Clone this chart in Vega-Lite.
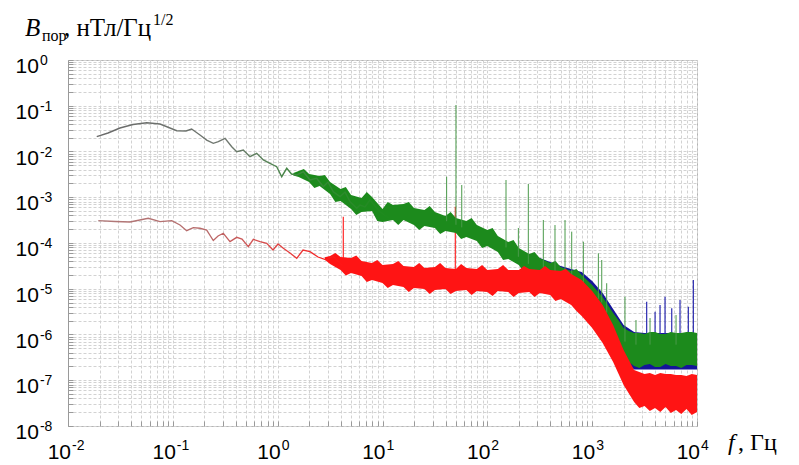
{
  "$schema": "https://vega.github.io/schema/vega-lite/v6.json",
  "width": 629,
  "height": 366,
  "autosize": {"type": "none"},
  "padding": {"left": 68, "top": 60, "right": 102, "bottom": 39},
  "background": "white",
  "config": {"view": {"stroke": "#b4b4b4", "strokeWidth": 1}, "font": "Liberation Sans"},
  "datasets": {
    "ch1_band": [
      {"f": 316.2, "hi": 4.70e-5, "lo": 1.997e-5},
      {"f": 501.2, "hi": 3.14e-5, "lo": 1.336e-5},
      {"f": 631.0, "hi": 2.70e-5, "lo": 1.092e-5},
      {"f": 794.3, "hi": 2.323e-5, "lo": 8.93e-6},
      {"f": 1000, "hi": 1.477e-5, "lo": 5.68e-6},
      {"f": 1259, "hi": 8.07e-6, "lo": 3.10e-6},
      {"f": 1585, "hi": 3.61e-6, "lo": 1.254e-6},
      {"f": 1995, "hi": 1.614e-6, "lo": 2.771e-7},
      {"f": 2512, "hi": 1.134e-6, "lo": 1.718e-7},
      {"f": 3162, "hi": 1.078e-6, "lo": 1.718e-7},
      {"f": 5012, "hi": 1.078e-6, "lo": 1.718e-7},
      {"f": 10000, "hi": 1.078e-6, "lo": 1.718e-7}
    ],
    "ch1_spikes": [
      {"f": 3311, "lo": 6e-7, "hi": 5.21e-6},
      {"f": 3981, "lo": 6e-7, "hi": 3.15e-6},
      {"f": 4440, "lo": 6e-7, "hi": 4.41e-6},
      {"f": 4955, "lo": 6e-7, "hi": 6.70e-6},
      {"f": 5741, "lo": 6e-7, "hi": 3.74e-6},
      {"f": 6887, "lo": 6e-7, "hi": 5.68e-6},
      {"f": 8266, "lo": 6e-7, "hi": 4.05e-6},
      {"f": 9228, "lo": 6e-7, "hi": 1.55e-5}
    ],
    "ch2_band": [
      {"f": 1.413, "hi": 3.4e-3, "lo": 3.0e-3},
      {"f": 1.585, "hi": 3.748e-3, "lo": 2.771e-3},
      {"f": 1.778, "hi": 4.145e-3, "lo": 2.443e-3},
      {"f": 1.995, "hi": 3.222e-3, "lo": 2.154e-3},
      {"f": 2.239, "hi": 3.064e-3, "lo": 1.593e-3},
      {"f": 2.512, "hi": 2.914e-3, "lo": 1.762e-3},
      {"f": 2.818, "hi": 3.064e-3, "lo": 1.440e-3},
      {"f": 3.162, "hi": 2.154e-3, "lo": 1.178e-3},
      {"f": 3.548, "hi": 1.806e-3, "lo": 7.873e-4},
      {"f": 3.981, "hi": 1.514e-3, "lo": 8.28e-4},
      {"f": 4.467, "hi": 1.675e-3, "lo": 6.77e-4},
      {"f": 5.012, "hi": 1.120e-3, "lo": 5.54e-4},
      {"f": 5.623, "hi": 1.038e-3, "lo": 4.093e-4},
      {"f": 6.310, "hi": 9.63e-4, "lo": 4.76e-4},
      {"f": 7.079, "hi": 1.303e-3, "lo": 4.881e-4},
      {"f": 7.943, "hi": 1.013e-3, "lo": 5.01e-4},
      {"f": 8.913, "hi": 7.486e-4, "lo": 3.03e-4},
      {"f": 10, "hi": 5.54e-4, "lo": 2.877e-4},
      {"f": 11.22, "hi": 7.873e-4, "lo": 3.03e-4},
      {"f": 12.59, "hi": 6.77e-4, "lo": 3.18e-4},
      {"f": 14.13, "hi": 6.942e-4, "lo": 2.474e-4},
      {"f": 15.85, "hi": 7.12e-4, "lo": 3.18e-4},
      {"f": 17.78, "hi": 7.873e-4, "lo": 2.806e-4},
      {"f": 19.95, "hi": 5.82e-4, "lo": 2.474e-4},
      {"f": 22.39, "hi": 5.54e-4, "lo": 1.923e-4},
      {"f": 25.12, "hi": 5.26e-4, "lo": 2.353e-4},
      {"f": 28.18, "hi": 6.437e-4, "lo": 2.237e-4},
      {"f": 31.62, "hi": 4.76e-4, "lo": 2.128e-4},
      {"f": 35.48, "hi": 4.304e-4, "lo": 1.573e-4},
      {"f": 39.81, "hi": 3.89e-4, "lo": 1.829e-4},
      {"f": 44.67, "hi": 4.76e-4, "lo": 1.740e-4},
      {"f": 50.12, "hi": 3.52e-4, "lo": 1.654e-4},
      {"f": 56.23, "hi": 3.263e-4, "lo": 1.223e-4},
      {"f": 63.10, "hi": 3.03e-4, "lo": 1.352e-4},
      {"f": 70.79, "hi": 3.52e-4, "lo": 1.223e-4},
      {"f": 79.43, "hi": 2.474e-4, "lo": 1.106e-4},
      {"f": 89.13, "hi": 2.182e-4, "lo": 7.78e-5},
      {"f": 100, "hi": 1.923e-4, "lo": 8.60e-5},
      {"f": 112.2, "hi": 2.128e-4, "lo": 7.394e-5},
      {"f": 125.9, "hi": 1.422e-4, "lo": 6.36e-5},
      {"f": 141.3, "hi": 1.223e-4, "lo": 4.25e-5},
      {"f": 158.5, "hi": 1.051e-4, "lo": 4.47e-5},
      {"f": 177.8, "hi": 1.163e-4, "lo": 3.843e-5},
      {"f": 199.5, "hi": 7.78e-5, "lo": 3.30e-5},
      {"f": 223.9, "hi": 6.686e-5, "lo": 2.323e-5},
      {"f": 251.2, "hi": 5.75e-5, "lo": 2.443e-5},
      {"f": 281.8, "hi": 6.36e-5, "lo": 2.21e-5},
      {"f": 316.2, "hi": 4.70e-5, "lo": 1.997e-5},
      {"f": 354.8, "hi": 4.145e-5, "lo": 1.477e-5},
      {"f": 398.1, "hi": 3.65e-5, "lo": 1.634e-5},
      {"f": 446.7, "hi": 4.04e-5, "lo": 1.477e-5},
      {"f": 501.2, "hi": 2.99e-5, "lo": 1.336e-5},
      {"f": 562.3, "hi": 2.70e-5, "lo": 9.87e-6},
      {"f": 631.0, "hi": 2.443e-5, "lo": 1.092e-5},
      {"f": 707.9, "hi": 2.70e-5, "lo": 9.87e-6},
      {"f": 794.3, "hi": 1.997e-5, "lo": 8.93e-6},
      {"f": 891.3, "hi": 1.553e-5, "lo": 7.119e-6},
      {"f": 1000, "hi": 1.207e-5, "lo": 5.68e-6},
      {"f": 1122, "hi": 8.93e-6, "lo": 4.197e-6},
      {"f": 1259, "hi": 6.60e-6, "lo": 3.10e-6},
      {"f": 1413, "hi": 4.41e-6, "lo": 2.075e-6},
      {"f": 1585, "hi": 2.95e-6, "lo": 1.387e-6},
      {"f": 1778, "hi": 2.075e-6, "lo": 7.58e-7},
      {"f": 1995, "hi": 1.387e-6, "lo": 2.771e-7},
      {"f": 2239, "hi": 1.193e-6, "lo": 2.505e-7},
      {"f": 2512, "hi": 1.078e-6, "lo": 2.049e-7},
      {"f": 2818, "hi": 1.078e-6, "lo": 1.852e-7},
      {"f": 3162, "hi": 1.026e-6, "lo": 2.154e-7},
      {"f": 3548, "hi": 1.134e-6, "lo": 2.265e-7},
      {"f": 3981, "hi": 1.134e-6, "lo": 1.948e-7},
      {"f": 4467, "hi": 1.026e-6, "lo": 1.948e-7},
      {"f": 5012, "hi": 1.026e-6, "lo": 2.265e-7},
      {"f": 5623, "hi": 1.134e-6, "lo": 2.049e-7},
      {"f": 6310, "hi": 1.078e-6, "lo": 2.049e-7},
      {"f": 7079, "hi": 1.078e-6, "lo": 1.852e-7},
      {"f": 7943, "hi": 1.134e-6, "lo": 2.154e-7},
      {"f": 8913, "hi": 1.134e-6, "lo": 2.154e-7},
      {"f": 10000, "hi": 1.078e-6, "lo": 2.049e-7}
    ],
    "ch2_line": [
      {"f": 0.0188, "b": 0.0211}, {"f": 0.0241, "b": 0.0254}, {"f": 0.0313, "b": 0.0326},
      {"f": 0.0417, "b": 0.0389}, {"f": 0.0564, "b": 0.0426}, {"f": 0.0755, "b": 0.0399},
      {"f": 0.109, "b": 0.0285}, {"f": 0.1336, "b": 0.0281}, {"f": 0.151, "b": 0.0310},
      {"f": 0.1815, "b": 0.0230}, {"f": 0.2104, "b": 0.0178}, {"f": 0.2432, "b": 0.0151},
      {"f": 0.2716, "b": 0.0164}, {"f": 0.3148, "b": 0.0194}, {"f": 0.3647, "b": 0.0127},
      {"f": 0.4068, "b": 0.0099}, {"f": 0.470, "b": 0.0108}, {"f": 0.5445, "b": 0.00769},
      {"f": 0.631, "b": 0.00914}, {"f": 0.730, "b": 0.00652}, {"f": 0.845, "b": 0.00552},
      {"f": 0.979, "b": 0.00466}, {"f": 1.093, "b": 0.00281}, {"f": 1.220, "b": 0.00430},
      {"f": 1.355, "b": 0.00322}, {"f": 1.520, "b": 0.00306}, {"f": 1.757, "b": 0.00362},
      {"f": 2.034, "b": 0.00238}, {"f": 2.357, "b": 0.00259}, {"f": 2.726, "b": 0.00170},
      {"f": 3.022, "b": 0.00215}, {"f": 3.395, "b": 0.00132}, {"f": 3.933, "b": 0.00103},
      {"f": 4.389, "b": 0.00130}, {"f": 4.898, "b": 0.000800}, {"f": 5.675, "b": 0.000573},
      {"f": 6.104, "b": 0.000677}, {"f": 6.81, "b": 0.000612}, {"f": 7.60, "b": 0.000871},
      {"f": 8.48, "b": 0.000644}, {"f": 9.46, "b": 0.000483}, {"f": 10.96, "b": 0.000376},
      {"f": 11.80, "b": 0.000347}
    ],
    "ch2_spikes": [
      {"f": 40.9, "lo": 3.0e-4, "hi": 2.81e-3},
      {"f": 50.2, "lo": 2.5e-4, "hi": 0.104},
      {"f": 57.0, "lo": 2.2e-4, "hi": 1.85e-3},
      {"f": 150.7, "lo": 8e-5, "hi": 2.38e-3},
      {"f": 197.7, "lo": 5e-5, "hi": 2.13e-4},
      {"f": 246, "lo": 3.5e-5, "hi": 1.95e-3},
      {"f": 342, "lo": 2.5e-5, "hi": 3.18e-4},
      {"f": 442, "lo": 2e-5, "hi": 2.47e-4},
      {"f": 551, "lo": 1.8e-5, "hi": 3.18e-4},
      {"f": 638, "lo": 1.5e-5, "hi": 1.77e-4},
      {"f": 824, "lo": 1.2e-5, "hi": 1.07e-4},
      {"f": 1146, "lo": 6e-6, "hi": 5.96e-5},
      {"f": 1234, "lo": 5e-6, "hi": 4.25e-5},
      {"f": 1376, "lo": 3e-6, "hi": 1.32e-5},
      {"f": 2056, "lo": 7e-7, "hi": 6.70e-6},
      {"f": 2618, "lo": 6e-7, "hi": 2.07e-6},
      {"f": 3565, "lo": 6e-7, "hi": 2.29e-6},
      {"f": 6310, "lo": 6e-7, "hi": 2.67e-6}
    ],
    "ch3_band": [
      {"f": 2.818, "hi": 4.9e-5, "lo": 4.3e-5},
      {"f": 3.162, "hi": 5.198e-5, "lo": 3.475e-5},
      {"f": 3.548, "hi": 6.045e-5, "lo": 2.99e-5},
      {"f": 3.981, "hi": 4.94e-5, "lo": 2.57e-5},
      {"f": 4.467, "hi": 4.821e-5, "lo": 1.948e-5},
      {"f": 5.012, "hi": 4.70e-5, "lo": 2.21e-5},
      {"f": 5.623, "hi": 5.33e-5, "lo": 2.049e-5},
      {"f": 6.310, "hi": 4.04e-5, "lo": 1.900e-5},
      {"f": 7.079, "hi": 3.843e-5, "lo": 1.404e-5},
      {"f": 7.943, "hi": 3.65e-5, "lo": 1.553e-5},
      {"f": 8.913, "hi": 4.25e-5, "lo": 1.440e-5},
      {"f": 10, "hi": 3.30e-5, "lo": 1.336e-5},
      {"f": 11.22, "hi": 3.389e-5, "lo": 1.039e-5},
      {"f": 12.59, "hi": 3.475e-5, "lo": 1.207e-5},
      {"f": 14.13, "hi": 4.04e-5, "lo": 1.148e-5},
      {"f": 15.85, "hi": 3.14e-5, "lo": 1.092e-5},
      {"f": 17.78, "hi": 3.064e-5, "lo": 8.49e-6},
      {"f": 19.95, "hi": 2.99e-5, "lo": 1.039e-5},
      {"f": 22.39, "hi": 3.65e-5, "lo": 1.013e-5},
      {"f": 25.12, "hi": 2.84e-5, "lo": 9.87e-6},
      {"f": 28.18, "hi": 2.914e-5, "lo": 7.677e-6},
      {"f": 31.62, "hi": 2.99e-5, "lo": 9.39e-6},
      {"f": 35.48, "hi": 3.65e-5, "lo": 9.63e-6},
      {"f": 39.81, "hi": 2.84e-5, "lo": 9.87e-6},
      {"f": 44.67, "hi": 2.771e-5, "lo": 7.677e-6},
      {"f": 50.12, "hi": 2.70e-5, "lo": 8.93e-6},
      {"f": 56.23, "hi": 3.475e-5, "lo": 9.155e-6},
      {"f": 63.10, "hi": 2.84e-5, "lo": 9.39e-6},
      {"f": 70.79, "hi": 2.771e-5, "lo": 7.30e-6},
      {"f": 79.43, "hi": 2.70e-5, "lo": 8.93e-6},
      {"f": 89.13, "hi": 3.30e-5, "lo": 8.708e-6},
      {"f": 100, "hi": 2.57e-5, "lo": 8.49e-6},
      {"f": 112.2, "hi": 2.635e-5, "lo": 6.942e-6},
      {"f": 125.9, "hi": 2.70e-5, "lo": 8.93e-6},
      {"f": 141.3, "hi": 3.30e-5, "lo": 8.708e-6},
      {"f": 158.5, "hi": 2.57e-5, "lo": 8.49e-6},
      {"f": 177.8, "hi": 2.57e-5, "lo": 6.60e-6},
      {"f": 199.5, "hi": 2.57e-5, "lo": 8.07e-6},
      {"f": 223.9, "hi": 3.14e-5, "lo": 8.28e-6},
      {"f": 251.2, "hi": 2.70e-5, "lo": 8.49e-6},
      {"f": 281.8, "hi": 2.635e-5, "lo": 6.60e-6},
      {"f": 316.2, "hi": 2.57e-5, "lo": 8.07e-6},
      {"f": 354.8, "hi": 3.14e-5, "lo": 7.677e-6},
      {"f": 398.1, "hi": 2.57e-5, "lo": 7.30e-6},
      {"f": 446.7, "hi": 2.505e-5, "lo": 5.398e-6},
      {"f": 501.2, "hi": 2.443e-5, "lo": 5.97e-6},
      {"f": 562.3, "hi": 2.70e-5, "lo": 5.133e-6},
      {"f": 631.0, "hi": 2.10e-5, "lo": 4.41e-6},
      {"f": 707.9, "hi": 1.806e-5, "lo": 3.263e-6},
      {"f": 794.3, "hi": 1.553e-5, "lo": 2.537e-6},
      {"f": 891.3, "hi": 1.178e-5, "lo": 1.876e-6},
      {"f": 1000, "hi": 8.93e-6, "lo": 1.387e-6},
      {"f": 1259, "hi": 4.41e-6, "lo": 6.52e-7},
      {"f": 1585, "hi": 1.614e-6, "lo": 2.505e-7},
      {"f": 1995, "hi": 4.58e-7, "lo": 7.87e-8},
      {"f": 2512, "hi": 1.675e-7, "lo": 3.35e-8},
      {"f": 2818, "hi": 1.514e-7, "lo": 2.474e-8},
      {"f": 3162, "hi": 1.370e-7, "lo": 2.74e-8},
      {"f": 3548, "hi": 1.440e-7, "lo": 2.128e-8},
      {"f": 3981, "hi": 1.302e-7, "lo": 2.474e-8},
      {"f": 4467, "hi": 1.440e-7, "lo": 2.023e-8},
      {"f": 5012, "hi": 1.370e-7, "lo": 2.60e-8},
      {"f": 5623, "hi": 1.370e-7, "lo": 1.924e-8},
      {"f": 6310, "hi": 1.302e-7, "lo": 2.237e-8},
      {"f": 7079, "hi": 1.302e-7, "lo": 1.829e-8},
      {"f": 7943, "hi": 1.238e-7, "lo": 2.353e-8},
      {"f": 8913, "hi": 1.370e-7, "lo": 1.740e-8},
      {"f": 10000, "hi": 1.302e-7, "lo": 2.023e-8}
    ],
    "ch3_line": [
      {"f": 0.01945, "b": 3.07e-4}, {"f": 0.0281, "b": 2.95e-4}, {"f": 0.0390, "b": 2.88e-4},
      {"f": 0.0583, "b": 3.47e-4}, {"f": 0.0755, "b": 2.92e-4}, {"f": 0.0976, "b": 3.07e-4},
      {"f": 0.117, "b": 2.47e-4}, {"f": 0.1355, "b": 1.86e-4}, {"f": 0.1567, "b": 2.16e-4},
      {"f": 0.1815, "b": 2.10e-4}, {"f": 0.2104, "b": 1.92e-4}, {"f": 0.2432, "b": 1.13e-4},
      {"f": 0.270, "b": 1.42e-4}, {"f": 0.303, "b": 1.63e-4}, {"f": 0.351, "b": 1.07e-4},
      {"f": 0.407, "b": 1.33e-4}, {"f": 0.457, "b": 1.22e-4}, {"f": 0.525, "b": 8.30e-5},
      {"f": 0.586, "b": 1.20e-4}, {"f": 0.679, "b": 1.07e-4}, {"f": 0.786, "b": 9.85e-5},
      {"f": 0.903, "b": 7.03e-5}, {"f": 1.008, "b": 9.51e-5}, {"f": 1.132, "b": 7.66e-5},
      {"f": 1.311, "b": 6.04e-5}, {"f": 1.520, "b": 4.63e-5}, {"f": 1.745, "b": 7.03e-5},
      {"f": 2.034, "b": 6.46e-5}, {"f": 2.426, "b": 4.94e-5}, {"f": 2.937, "b": 4.25e-5},
      {"f": 3.373, "b": 5.20e-5}, {"f": 4.228, "b": 3.03e-5}
    ],
    "ch3_spikes": [
      {"f": 4.228, "lo": 4e-5, "hi": 3.76e-4},
      {"f": 49.5, "lo": 2e-5, "hi": 6.2e-4}
    ],
    "xlab": [
      {"f": 0.01, "e": "-2"}, {"f": 0.1, "e": "-1"}, {"f": 1, "e": "0"}, {"f": 10, "e": "1"},
      {"f": 100, "e": "2"}, {"f": 1000, "e": "3"}, {"f": 10000, "e": "4"}
    ],
    "ylab": [
      {"b": 1, "e": "0"}, {"b": 0.1, "e": "-1"}, {"b": 0.01, "e": "-2"}, {"b": 0.001, "e": "-3"},
      {"b": 0.0001, "e": "-4"}, {"b": 0.00001, "e": "-5"}, {"b": 0.000001, "e": "-6"},
      {"b": 0.0000001, "e": "-7"}, {"b": 0.00000001, "e": "-8"}
    ]
  },
  "layer": [
    {
      "data": {"name": "ch1_band"},
      "mark": {"type": "area", "color": "#14149a"},
      "encoding": {
        "x": {"field": "f", "type": "quantitative", "title": null, "scale": {"type": "log", "domain": [0.01, 10000]},
          "axis": {"values": [0.01,0.02,0.03,0.04,0.05,0.06,0.07,0.08,0.09,0.1,0.2,0.3,0.4,0.5,0.6,0.7,0.8,0.9,1,2,3,4,5,6,7,8,9,10,20,30,40,50,60,70,80,90,100,200,300,400,500,600,700,800,900,1000,2000,3000,4000,5000,6000,7000,8000,9000,10000],
            "labels": false, "grid": true, "gridColor": "#d2d2d2", "gridDash": [3, 2], "gridWidth": 1,
            "ticks": true, "tickSize": -5, "tickColor": "#9a9a9a", "domain": false}},
        "y": {"field": "hi", "type": "quantitative", "title": null, "scale": {"type": "log", "domain": [1e-8, 1]},
          "axis": {"values": [1e-8,2e-8,3e-8,4e-8,5e-8,6e-8,7e-8,8e-8,9e-8,1e-7,2e-7,3e-7,4e-7,5e-7,6e-7,7e-7,8e-7,9e-7,1e-6,2e-6,3e-6,4e-6,5e-6,6e-6,7e-6,8e-6,9e-6,1e-5,2e-5,3e-5,4e-5,5e-5,6e-5,7e-5,8e-5,9e-5,1e-4,2e-4,3e-4,4e-4,5e-4,6e-4,7e-4,8e-4,9e-4,1e-3,2e-3,3e-3,4e-3,5e-3,6e-3,7e-3,8e-3,9e-3,0.01,0.02,0.03,0.04,0.05,0.06,0.07,0.08,0.09,0.1,0.2,0.3,0.4,0.5,0.6,0.7,0.8,0.9,1],
            "labels": false, "grid": true, "gridColor": "#d2d2d2", "gridDash": [3, 2], "gridWidth": 1,
            "ticks": true, "tickSize": -5, "tickColor": "#9a9a9a", "domain": true, "domainColor": "#9a9a9a"}},
        "y2": {"field": "lo"}
      }
    },
    {
      "data": {"name": "ch1_spikes"},
      "mark": {"type": "rule", "color": "#2a2ab0", "strokeWidth": 1.2},
      "encoding": {
        "x": {"field": "f", "type": "quantitative", "title": null},
        "y": {"field": "lo", "type": "quantitative", "title": null},
        "y2": {"field": "hi"}
      }
    },
    {
      "data": {"name": "ch3_spikes"},
      "mark": {"type": "rule", "color": "#ff2a2a", "strokeWidth": 1.2},
      "encoding": {
        "x": {"field": "f", "type": "quantitative", "title": null},
        "y": {"field": "lo", "type": "quantitative", "title": null},
        "y2": {"field": "hi"}
      }
    },
    {
      "data": {"name": "ch2_band"},
      "mark": {"type": "area", "color": "#1c8a1c"},
      "encoding": {
        "x": {"field": "f", "type": "quantitative", "title": null},
        "y": {"field": "hi", "type": "quantitative", "title": null},
        "y2": {"field": "lo"}
      }
    },
    {
      "data": {"name": "ch2_line"},
      "mark": {"type": "line", "strokeWidth": 1.4,
        "stroke": {"gradient": "linear", "x1": 0, "y1": 0, "x2": 1, "y2": 0,
          "stops": [{"offset": 0, "color": "#6a6a6a"}, {"offset": 0.45, "color": "#707870"}, {"offset": 0.7, "color": "#3d8a3d"}, {"offset": 1, "color": "#1c8a1c"}]}},
      "encoding": {
        "x": {"field": "f", "type": "quantitative", "title": null},
        "y": {"field": "b", "type": "quantitative", "title": null}
      }
    },
    {
      "data": {"name": "ch2_spikes"},
      "mark": {"type": "rule", "color": "#4a9a4a", "strokeWidth": 1},
      "encoding": {
        "x": {"field": "f", "type": "quantitative", "title": null},
        "y": {"field": "lo", "type": "quantitative", "title": null},
        "y2": {"field": "hi"}
      }
    },
    {
      "data": {"name": "ch3_band"},
      "mark": {"type": "area", "color": "#ff1414"},
      "encoding": {
        "x": {"field": "f", "type": "quantitative", "title": null},
        "y": {"field": "hi", "type": "quantitative", "title": null},
        "y2": {"field": "lo"}
      }
    },
    {
      "data": {"name": "ch3_line"},
      "mark": {"type": "line", "strokeWidth": 1.3,
        "stroke": {"gradient": "linear", "x1": 0, "y1": 0, "x2": 1, "y2": 0,
          "stops": [{"offset": 0, "color": "#b07a7a"}, {"offset": 0.45, "color": "#b86a6a"}, {"offset": 0.8, "color": "#e83a3a"}, {"offset": 1, "color": "#ff1414"}]}},
      "encoding": {
        "x": {"field": "f", "type": "quantitative", "title": null},
        "y": {"field": "b", "type": "quantitative", "title": null}
      }
    },
    {
      "data": {"name": "xlab"},
      "mark": {"type": "text", "text": "10", "align": "right", "baseline": "alphabetic", "dx": 3, "dy": 33, "fontSize": 21, "font": "Liberation Sans", "color": "black"},
      "encoding": {
        "x": {"field": "f", "type": "quantitative", "title": null},
        "y": {"datum": 1e-8, "type": "quantitative", "title": null}
      }
    },
    {
      "data": {"name": "xlab"},
      "mark": {"type": "text", "align": "left", "baseline": "alphabetic", "dx": 4, "dy": 24, "fontSize": 14, "font": "Liberation Sans", "color": "black"},
      "encoding": {
        "x": {"field": "f", "type": "quantitative", "title": null},
        "y": {"datum": 1e-8, "type": "quantitative", "title": null},
        "text": {"field": "e"}
      }
    },
    {
      "data": {"name": "ylab"},
      "mark": {"type": "text", "text": "10", "align": "right", "baseline": "alphabetic", "dy": 13, "fontSize": 21, "font": "Liberation Sans", "color": "black"},
      "encoding": {
        "x": {"datum": 0.00528, "type": "quantitative", "title": null},
        "y": {"field": "b", "type": "quantitative", "title": null}
      }
    },
    {
      "data": {"name": "ylab"},
      "mark": {"type": "text", "align": "left", "baseline": "alphabetic", "dx": 1, "dy": 5, "fontSize": 14, "font": "Liberation Sans", "color": "black"},
      "encoding": {
        "x": {"datum": 0.00528, "type": "quantitative", "title": null},
        "y": {"field": "b", "type": "quantitative", "title": null},
        "text": {"field": "e"}
      }
    },
    {
      "data": {"values": [{}]},
      "mark": {"type": "text", "text": "B", "align": "left", "baseline": "alphabetic", "fontSize": 25, "font": "Liberation Serif", "fontStyle": "italic", "color": "black"},
      "encoding": {
        "x": {"datum": 0.00389, "type": "quantitative", "title": null},
        "y": {"datum": 3.347, "type": "quantitative", "title": null}
      }
    },
    {
      "data": {"values": [{}]},
      "mark": {"type": "text", "text": "пор", "align": "left", "baseline": "alphabetic", "fontSize": 16, "font": "Liberation Serif", "color": "black"},
      "encoding": {
        "x": {"datum": 0.005648, "type": "quantitative", "title": null},
        "y": {"datum": 2.602, "type": "quantitative", "title": null}
      }
    },
    {
      "data": {"values": [{}]},
      "mark": {"type": "text", "text": ", нТл/Гц", "align": "left", "baseline": "alphabetic", "fontSize": 25, "font": "Liberation Serif", "color": "black"},
      "encoding": {
        "x": {"datum": 0.009158, "type": "quantitative", "title": null},
        "y": {"datum": 3.347, "type": "quantitative", "title": null}
      }
    },
    {
      "data": {"values": [{}]},
      "mark": {"type": "text", "text": "1/2", "align": "left", "baseline": "alphabetic", "fontSize": 16, "font": "Liberation Serif", "color": "black"},
      "encoding": {
        "x": {"datum": 0.06467, "type": "quantitative", "title": null},
        "y": {"datum": 5.821, "type": "quantitative", "title": null}
      }
    },
    {
      "data": {"values": [{}]},
      "mark": {"type": "text", "text": "f", "align": "left", "baseline": "alphabetic", "fontSize": 24, "font": "Liberation Serif", "fontStyle": "italic", "color": "black"},
      "encoding": {
        "x": {"datum": 19770, "type": "quantitative", "title": null},
        "y": {"datum": 2.987e-9, "type": "quantitative", "title": null}
      }
    },
    {
      "data": {"values": [{}]},
      "mark": {"type": "text", "text": ", Гц", "align": "left", "baseline": "alphabetic", "fontSize": 24, "font": "Liberation Serif", "color": "black", "dx": 10},
      "encoding": {
        "x": {"datum": 19770, "type": "quantitative", "title": null},
        "y": {"datum": 2.987e-9, "type": "quantitative", "title": null}
      }
    }
  ]
}
